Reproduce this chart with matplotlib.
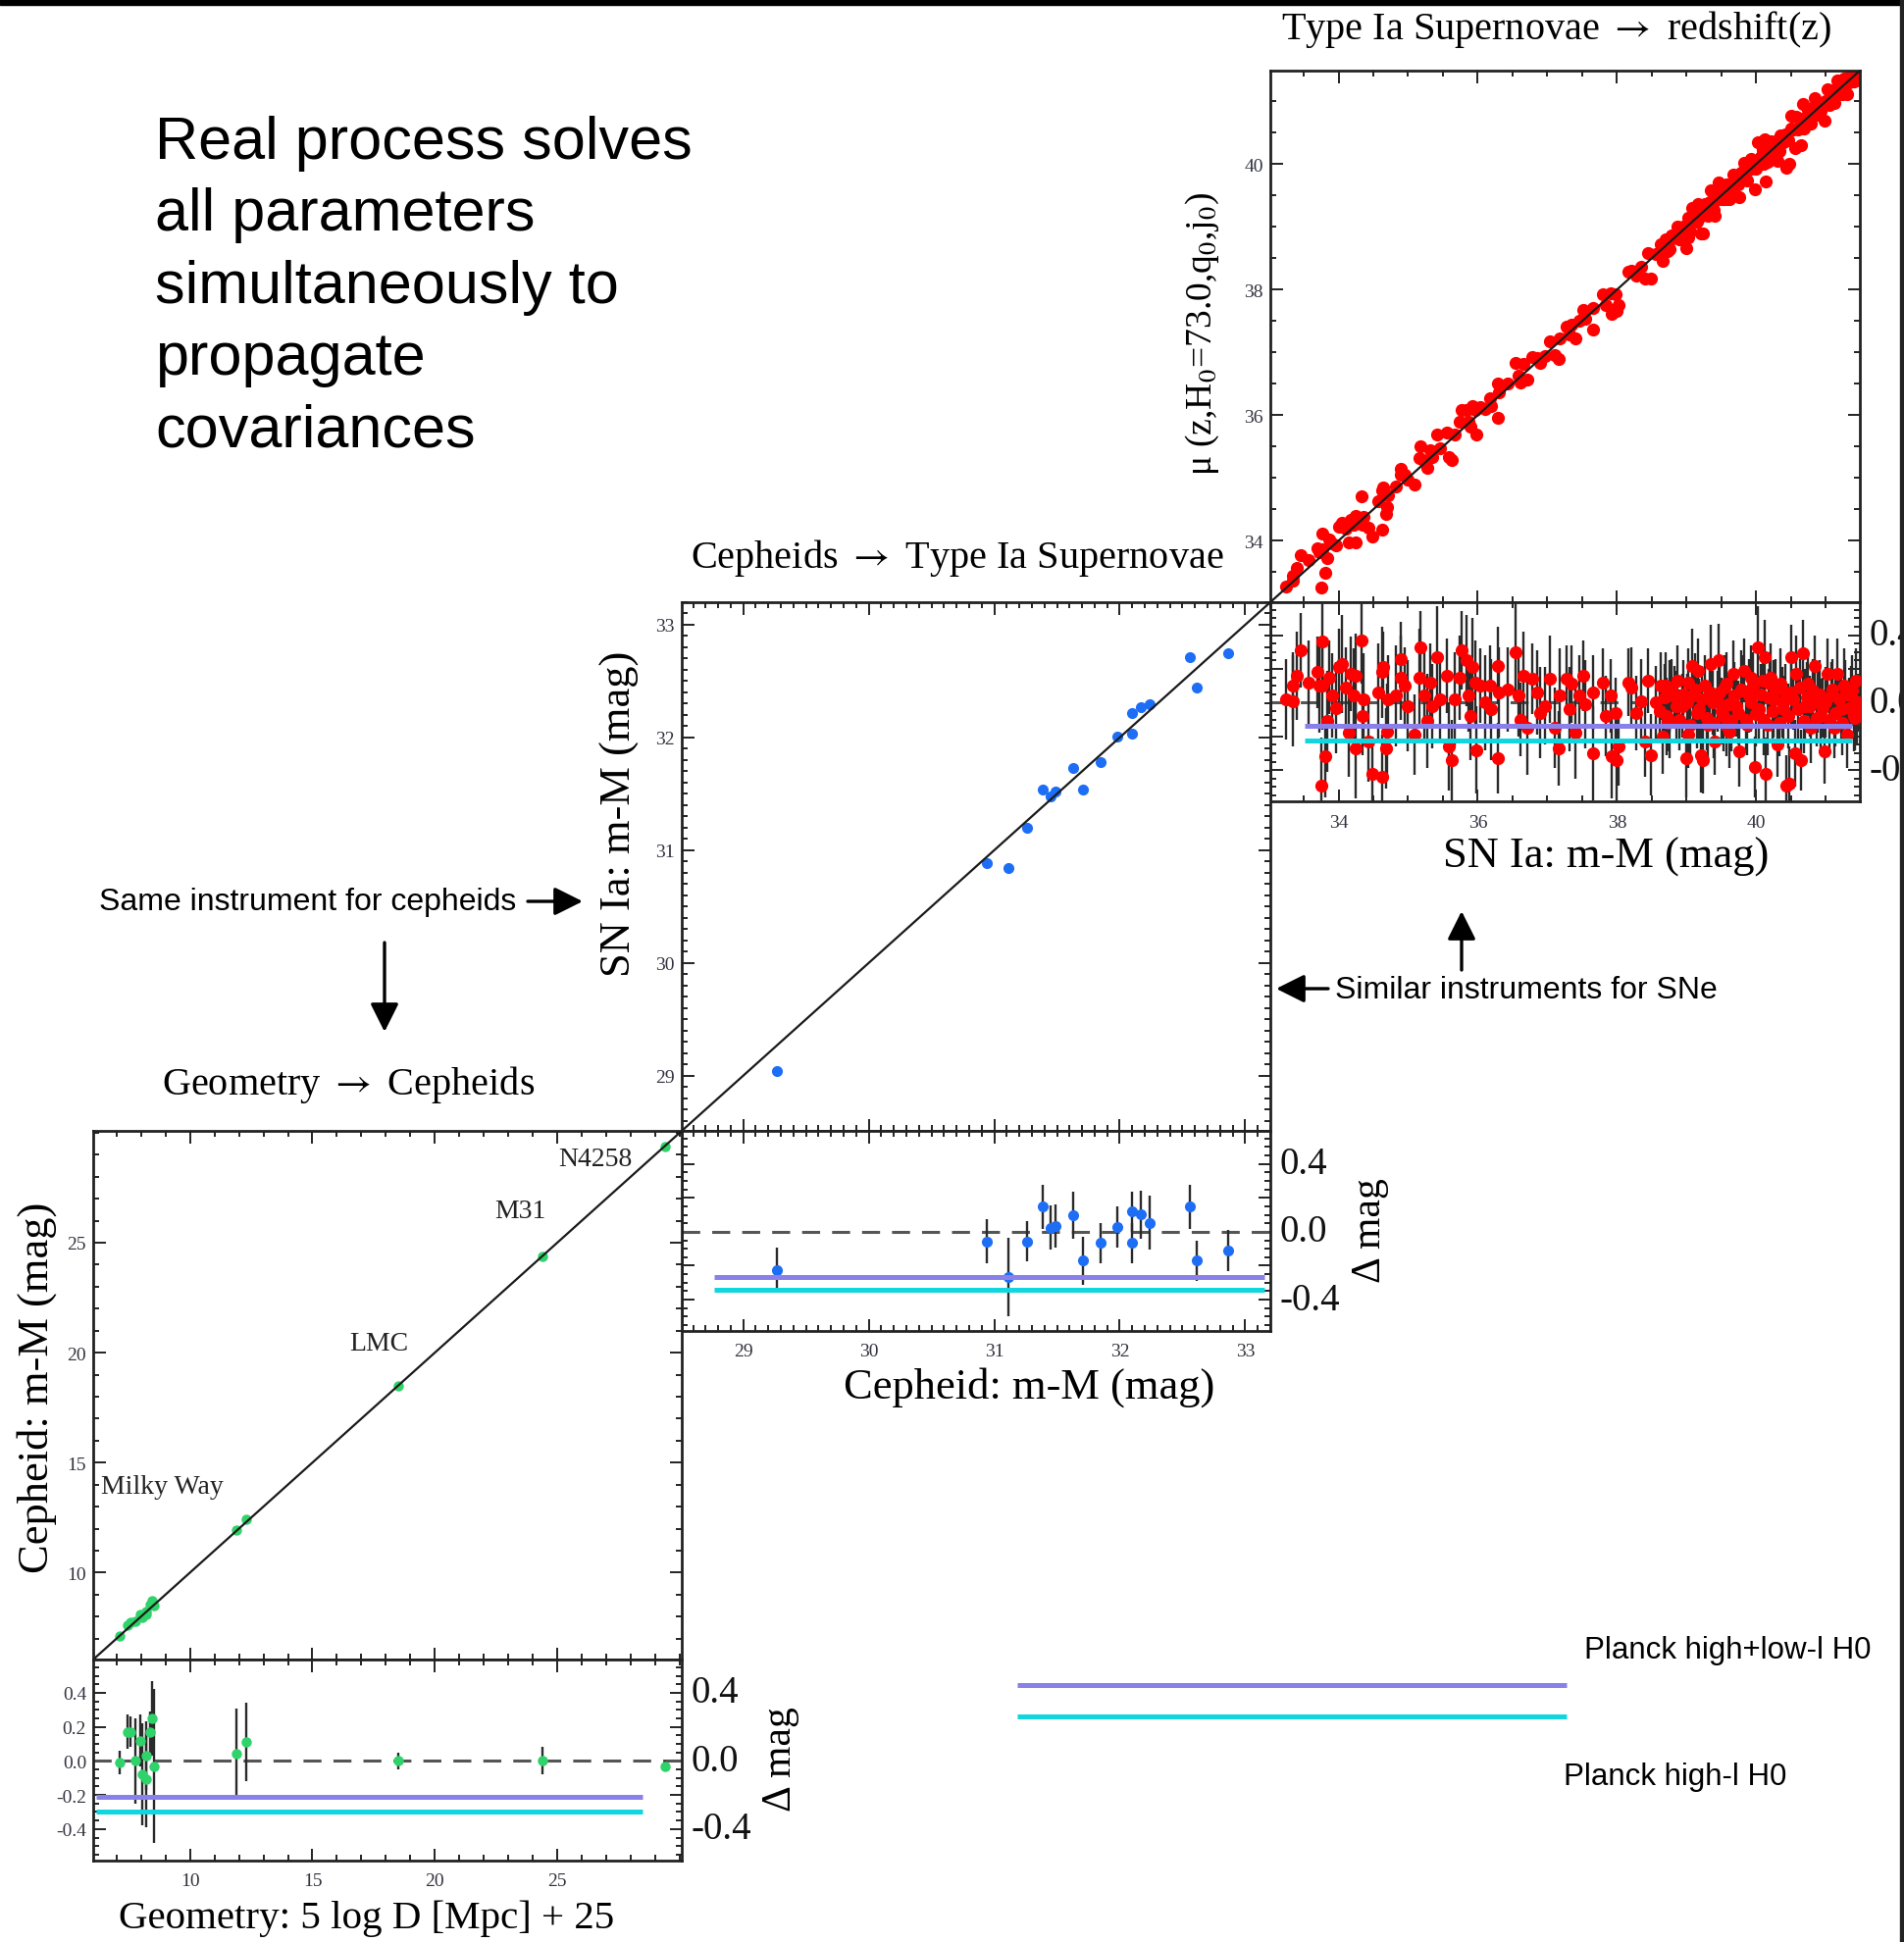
import numpy as np
import matplotlib.pyplot as plt
from matplotlib.ticker import MultipleLocator, FormatStrFormatter
from matplotlib.transforms import blended_transform_factory
from matplotlib.patches import Rectangle

W, H = 1941, 1981
DPI = 100

SERIF = ['Liberation Serif', 'DejaVu Serif']
SANS = ['Liberation Sans', 'DejaVu Sans']
plt.rcParams['font.family'] = SERIF
plt.rcParams['mathtext.fontset'] = 'stix'
plt.rcParams['axes.unicode_minus'] = False

RED = '#ff0000'
BLUE = '#1e6ef5'
GREEN = '#2fd36a'
PURPLE = '#8a80ea'
CYAN = '#12d6df'

# ---------------- data ----------------
# SN Ia: distance modulus and Hubble residual
sn_x = [33.25, 33.35, 33.34, 33.40, 33.46, 33.57, 33.72, 33.70, 33.76, 33.77,
        33.81, 33.75, 33.84, 33.87, 33.91, 33.96, 34.01, 34.05, 34.10, 34.15,
        34.17, 34.22, 34.24, 34.25, 34.33, 34.34, 34.36, 34.43, 34.48, 34.57,
        34.62, 34.64, 34.62, 34.69, 34.70, 34.71, 34.83, 34.89, 34.90, 34.95,
        35.00, 35.09, 35.16, 35.18, 35.23, 35.27, 35.32, 35.35, 35.42, 35.46,
        35.56, 35.59, 35.63, 35.67, 35.74, 35.77, 35.84, 35.86, 35.89, 35.93,
        35.98, 36.03, 36.10, 36.17, 36.19, 36.29, 36.29, 36.31, 36.43, 36.54,
        36.59, 36.62, 36.66, 36.71, 36.78, 36.85, 36.90, 36.97, 37.04, 37.11,
        37.16, 37.18, 37.27, 37.32, 37.34, 37.41, 37.46, 37.51, 37.55, 37.65,
        37.66, 37.80, 37.84, 37.91, 37.93, 37.98, 38.00, 38.02, 38.17, 38.21,
        38.28, 38.35, 38.40, 38.45, 38.49, 38.56, 38.63, 38.71, 38.75, 35.97,
        38.70, 38.75, 38.82, 38.87, 38.94, 38.99, 39.03, 39.08, 39.10, 39.15,
        39.17, 39.20, 39.24, 39.27, 39.31, 39.35, 39.38, 39.41, 39.46, 39.48,
        39.53, 39.57, 39.62, 39.67, 39.71, 39.76, 39.78, 39.83, 39.85, 39.90,
        39.98, 40.02, 40.04, 40.09, 40.12, 40.14, 40.16, 40.21, 40.25, 40.30,
        40.35, 40.39, 40.43, 40.48, 40.50, 40.51, 40.56, 40.58, 40.65, 40.67,
        40.70, 40.75, 40.79, 40.84, 40.89, 40.93, 40.98, 41.03, 41.08, 41.12,
        41.17, 41.22, 41.26, 41.31, 41.36, 41.40, 41.43, 41.45, 38.66, 39.93,
        38.62, 38.68, 38.73, 38.79, 38.85, 38.90, 38.96, 39.01, 39.05, 39.12,
        39.18, 39.22, 39.29, 39.33, 39.39, 39.44, 39.50, 39.55, 39.60, 39.65,
        39.69, 39.74, 39.80, 39.87, 39.93, 39.96, 40.00, 40.06, 40.11, 40.18,
        40.23, 40.28, 40.33, 40.37, 40.42, 40.46, 40.53, 40.60, 40.63, 40.68,
        40.73, 40.77, 40.82, 40.87, 40.91, 40.96, 41.00, 41.05, 41.10, 41.14,
        41.19, 41.24, 41.28, 41.33, 41.38, 41.42, 41.46, 39.02, 39.58, 40.20]
sn_res = [0.02, 0.01, 0.10, 0.16, 0.31, 0.12, 0.10, 0.18, 0.36, 0.10,
          -0.32, -0.49, -0.11, 0.15, 0.04, -0.03, 0.21, 0.23, 0.09, -0.18,
          0.17, 0.04, 0.16, -0.27, 0.37, -0.08, 0.02, -0.23, -0.42, 0.06,
          -0.44, 0.21, 0.18, -0.27, -0.17, 0.02, 0.04, 0.26, 0.15, 0.10,
          -0.02, -0.19, 0.15, 0.33, 0.04, -0.11, 0.12, -0.02, 0.27, 0.02,
          0.16, -0.26, -0.34, 0.02, 0.15, 0.31, 0.25, 0.04, -0.08, 0.21,
          -0.28, 0.10, 0.00, 0.10, -0.04, 0.22, -0.33, 0.06, 0.08, 0.30,
          0.04, -0.10, 0.16, -0.15, 0.14, 0.06, -0.06, -0.02, 0.14, -0.15,
          -0.27, 0.04, 0.14, -0.04, 0.11, -0.18, 0.04, 0.16, -0.01, 0.06,
          -0.30, 0.12, -0.08, 0.04, -0.32, -0.06, -0.34, -0.26, 0.12, 0.09,
          -0.06, 0.01, -0.23, 0.13, -0.31, 0.00, 0.10, -0.08, 0.04, 0.12,
          0.10, -0.11, 0.04, 0.13, -0.02, -0.33, -0.19, 0.22, 0.04, -0.06,
          0.19, -0.31, -0.34, 0.10, -0.13, 0.23, 0.00, -0.23, 0.25, 0.06,
          -0.08, 0.11, -0.17, 0.17, -0.02, -0.29, 0.08, 0.19, -0.10, 0.04,
          -0.38, 0.33, -0.04, 0.13, 0.27, -0.42, -0.13, 0.15, 0.02, -0.25,
          0.11, -0.04, -0.49, -0.48, 0.27, 0.06, -0.30, 0.17, -0.34, 0.29,
          -0.02, 0.11, -0.15, 0.22, 0.02, -0.08, -0.29, 0.17, 0.04, -0.15,
          0.17, -0.04, 0.10, -0.19, 0.04, -0.08, 0.13, -0.05, -0.20, 0.15,
          -0.05, 0.03, -0.12, 0.07, -0.02, -0.10, 0.05, 0.00, -0.13, 0.08,
          -0.04, 0.02, -0.09, 0.06, -0.12, 0.01, -0.05, 0.09, -0.01, -0.11,
          0.04, -0.06, 0.07, -0.13, 0.00, 0.10, -0.07, 0.05, -0.10, 0.03,
          -0.05, 0.08, -0.12, 0.00, 0.06, -0.08, 0.02, -0.04, 0.09, -0.11,
          0.03, -0.02, 0.07, -0.09, 0.05, -0.03, 0.00, -0.10, 0.08, -0.06,
          0.02, -0.12, 0.05, -0.03, 0.07, -0.09, 0.00, 0.12, -0.14, 0.11]
sn_err = [0.24, 0.27, 0.20, 0.26, 0.22, 0.25, 0.28, 0.21, 0.30, 0.26,
          0.24, 0.28, 0.30, 0.22, 0.25, 0.27, 0.23, 0.29, 0.24, 0.26,
          0.22, 0.28, 0.25, 0.30, 0.26, 0.23, 0.27, 0.24, 0.22, 0.29,
          0.25, 0.21, 0.27, 0.24, 0.28, 0.26, 0.30, 0.22, 0.25, 0.23,
          0.27, 0.24, 0.29, 0.21, 0.26, 0.28, 0.23, 0.25, 0.30, 0.24,
          0.22, 0.26, 0.24, 0.28, 0.25, 0.23, 0.27, 0.21, 0.26, 0.29,
          0.26, 0.22, 0.28, 0.24, 0.30, 0.23, 0.21, 0.27, 0.25, 0.29,
          0.24, 0.22, 0.26, 0.28, 0.21, 0.25, 0.27, 0.23, 0.26, 0.24,
          0.22, 0.28, 0.20, 0.25, 0.23, 0.27, 0.24, 0.21, 0.26, 0.22,
          0.28, 0.20, 0.24, 0.22, 0.25, 0.21, 0.26, 0.23, 0.20, 0.24,
          0.22, 0.25, 0.21, 0.19, 0.24, 0.22, 0.20, 0.23, 0.21, 0.25,
          0.20, 0.22, 0.18, 0.21, 0.19, 0.23, 0.20, 0.22, 0.18, 0.21,
          0.19, 0.22, 0.20, 0.18, 0.21, 0.23, 0.19, 0.20, 0.22, 0.18,
          0.21, 0.19, 0.22, 0.20, 0.18, 0.21, 0.23, 0.19, 0.20, 0.22,
          0.18, 0.24, 0.20, 0.19, 0.22, 0.21, 0.18, 0.20, 0.23, 0.19,
          0.21, 0.20, 0.18, 0.22, 0.19, 0.21, 0.20, 0.23, 0.18, 0.20,
          0.22, 0.19, 0.21, 0.18, 0.20, 0.22, 0.19, 0.21, 0.20, 0.18,
          0.21, 0.19, 0.22, 0.20, 0.18, 0.21, 0.19, 0.20, 0.22, 0.19,
          0.18, 0.20, 0.17, 0.19, 0.21, 0.18, 0.20, 0.17, 0.19, 0.21,
          0.18, 0.20, 0.19, 0.17, 0.21, 0.18, 0.20, 0.19, 0.17, 0.18,
          0.20, 0.19, 0.21, 0.18, 0.17, 0.20, 0.19, 0.18, 0.21, 0.17,
          0.19, 0.18, 0.20, 0.21, 0.17, 0.19, 0.18, 0.20, 0.17, 0.19,
          0.21, 0.18, 0.19, 0.17, 0.20, 0.18, 0.21, 0.19, 0.18, 0.20,
          0.17, 0.19, 0.20, 0.18, 0.21, 0.19, 0.17, 0.20, 0.18, 0.19]

# Cepheid hosts: Cepheid distance modulus and SN residual
ceph_x = [29.27, 30.94, 31.11, 31.26, 31.39, 31.45, 31.49, 31.63, 31.71,
          31.85, 31.98, 32.10, 32.10, 32.17, 32.24, 32.56, 32.61, 32.86]
ceph_res = [-0.225, -0.057, -0.267, -0.057, 0.149, 0.023, 0.034, 0.099, -0.171,
            -0.067, 0.029, -0.067, 0.118, 0.101, 0.053, 0.149, -0.171, -0.110]
ceph_err = [0.13, 0.13, 0.23, 0.12, 0.13, 0.13, 0.13, 0.14, 0.14,
            0.12, 0.12, 0.12, 0.12, 0.14, 0.16, 0.13, 0.12, 0.12]

# Geometric anchors: geometric distance modulus and Cepheid residual
geo_x = [7.14, 7.45, 7.59, 7.78, 7.96, 8.06, 8.22, 8.22,
         8.37, 8.47, 8.53, 11.88, 12.31, 18.51, 24.39, 29.39]
geo_res = [-0.01, 0.17, 0.17, 0.00, 0.12, -0.08, -0.11, 0.03,
           0.17, 0.25, -0.03, 0.04, 0.11, 0.00, 0.00, -0.03]
geo_err = [0.07, 0.10, 0.09, 0.25, 0.15, 0.30, 0.28, 0.20,
           0.12, 0.22, 0.45, 0.27, 0.23, 0.05, 0.08, 0.03]
geo_names = ['Milky Way', 'LMC', 'M31', 'N4258']
geo_name_pos = [(6.38, 13.9), (17.7, 20.45), (23.5, 26.45), (26.55, 28.8)]

# Planck offsets drawn in each residual panel (mag) and their x extent
planck_lo_l = {'sn': -0.137, 'ceph': -0.265, 'geo': -0.21}
planck_hi_l = {'sn': -0.225, 'ceph': -0.34, 'geo': -0.30}
planck_span = {'sn': (33.52, 41.38), 'ceph': (28.77, 33.15), 'geo': (6.16, 28.47)}

SN_LIM = (33.02, 41.49)
CE_LIM = (28.51, 33.20)
GE_LIM = (6.05, 30.08)
RES_LIM = (-0.585, 0.595)


def box(x0, y0, x1, y1):
    return [x0 / W, 1 - y1 / H, (x1 - x0) / W, (y1 - y0) / H]


def style(ax, xmaj, xmin, ymaj, ymin):
    ax.xaxis.set_major_locator(MultipleLocator(xmaj))
    ax.xaxis.set_minor_locator(MultipleLocator(xmin))
    ax.yaxis.set_major_locator(MultipleLocator(ymaj))
    ax.yaxis.set_minor_locator(MultipleLocator(ymin))
    ax.tick_params(which='both', direction='in', top=True, right=True,
                   color='#222222', width=1.4, labelsize=14,
                   labelcolor='#333340', pad=5)
    ax.tick_params(which='major', length=9)
    ax.tick_params(which='minor', length=4.5)
    for s in ax.spines.values():
        s.set_linewidth(2.0)
        s.set_color('#222222')


fig = plt.figure(figsize=(W / DPI, H / DPI), dpi=DPI)

ax_sn = fig.add_axes(box(1295, 73, 1896, 615))
ax_snr = fig.add_axes(box(1295, 615, 1896, 818))
ax_ce = fig.add_axes(box(695, 615, 1295, 1154))
ax_cer = fig.add_axes(box(695, 1154, 1295, 1358))
ax_ge = fig.add_axes(box(95, 1154, 695, 1693))
ax_ger = fig.add_axes(box(95, 1693, 695, 1898))

sets = [
    (ax_sn, ax_snr, 'sn', sn_x, sn_res, sn_err, SN_LIM, RED, 2, 0.5, 8.5),
    (ax_ce, ax_cer, 'ceph', ceph_x, ceph_res, ceph_err, CE_LIM, BLUE, 1, 0.1, 7),
    (ax_ge, ax_ger, 'geo', geo_x, geo_res, geo_err, GE_LIM, GREEN, 5, 1, 6.5),
]

for ax, axr, key, x, r, e, lim, col, maj, mnr, ms in sets:
    x = np.array(x)
    r = np.array(r)
    y = x + r
    # main panel
    ax.plot(x, y, 'o', ms=ms, color=col, mec=col, zorder=2)
    ax.plot(lim, lim, color='#1a1a1a', lw=1.6, zorder=3)
    ax.set_xlim(lim)
    ax.set_ylim(lim)
    style(ax, maj, mnr, maj, mnr)
    ax.tick_params(labelbottom=False)

    # residual panel
    axr.errorbar(x, r, yerr=e, fmt='o', ms=ms, color=col, mec=col,
                 ecolor='#2a2a2a', elinewidth=1.7, capsize=0, zorder=3)
    axr.axhline(0, color='#555555', lw=2.2, dashes=(6, 4), zorder=2)
    x0, x1 = planck_span[key]
    axr.plot([x0, x1], [planck_lo_l[key]] * 2, color=PURPLE, lw=3.6,
             solid_capstyle='butt', zorder=5)
    axr.plot([x0, x1], [planck_hi_l[key]] * 2, color=CYAN, lw=3.6,
             solid_capstyle='butt', zorder=5)
    axr.set_xlim(lim)
    axr.set_ylim(RES_LIM)
    style(axr, maj, mnr, 0.2, 0.05)
    axr.tick_params(axis='x', pad=9)
    axr.yaxis.set_major_formatter(FormatStrFormatter('%.1f'))
    if key != 'geo':
        axr.tick_params(labelleft=False)
    tr = blended_transform_factory(axr.transAxes, axr.transData)
    for v in [0.4, 0.0, -0.4]:
        axr.text(1.016, v, f'{v:.1f}', transform=tr, fontsize=28,
                 ha='left', va='center', color='#111111', clip_on=False)

# tick choices for the geometry panel (30 is the corner, unlabeled)
ge_ticks = [10, 15, 20, 25]
ax_ge.set_xticks(ge_ticks)
ax_ge.set_yticks(ge_ticks)
ax_ger.set_xticks(ge_ticks)

for name, (px, py) in zip(geo_names, geo_name_pos):
    ax_ge.text(px, py, name, fontsize=20, ha='left' if name == 'Milky Way' else 'center',
               va='center', color='#222222')

# ---------------- overlay: titles, labels, arrows ----------------
ov = fig.add_axes([0, 0, 1, 1])
ov.set_xlim(0, W)
ov.set_ylim(H, 0)
ov.axis('off')

ov.add_patch(Rectangle((0, 0), W, 6, color='black'))
ov.add_patch(Rectangle((1937, 0), 4, H, color='#222222'))

ov.text(158, 118, 'Real process solves\nall parameters\nsimultaneously to\npropagate\ncovariances',
        fontsize=44, family=SANS, ha='left', va='top', linespacing=1.37)

ARR = r'$\rightarrow$'
ov.text(1586, 30, f'Type Ia Supernovae {ARR} redshift(z)', fontsize=29, ha='center', va='center')
ov.text(976, 569, f'Cepheids {ARR} Type Ia Supernovae', fontsize=29, ha='center', va='center')
ov.text(355, 1106, f'Geometry {ARR} Cepheids', fontsize=29, ha='center', va='center')

ov.text(1226, 341, '\u03bc (z,H$_0$=73.0,q$_0$,j$_0$)', fontsize=27, rotation=90,
        ha='center', va='center')
ov.text(1637, 874, 'SN Ia: m-M (mag)', fontsize=32, ha='center', va='center')
ov.text(632, 830, 'SN Ia: m-M (mag)', fontsize=32, rotation=90, ha='center', va='center')
ov.text(1049, 1415, 'Cepheid: m-M (mag)', fontsize=32, ha='center', va='center')
ov.text(38, 1415, 'Cepheid: m-M (mag)', fontsize=32, rotation=90, ha='center', va='center')
ov.text(374, 1956, 'Geometry: 5 log D [Mpc] + 25', fontsize=29.5, ha='center', va='center')
ov.text(1397, 1255, '\u0394 mag', fontsize=30, rotation=90, ha='center', va='center')
ov.text(796, 1794, '\u0394 mag', fontsize=30, rotation=90, ha='center', va='center')

arrow = dict(arrowstyle='-|>,head_length=1.1,head_width=0.55', lw=2.4,
             color='black', mutation_scale=16, shrinkA=0, shrinkB=0)
ov.text(101, 920, 'Same instrument for cepheids', fontsize=23, family=SANS,
        ha='left', va='center')
ov.annotate('', xy=(594, 920), xytext=(538, 920), arrowprops=arrow)
ov.annotate('', xy=(392, 1053), xytext=(392, 962), arrowprops=arrow)
ov.text(1361, 1010, 'Similar instruments for SNe', fontsize=23, family=SANS,
        ha='left', va='center')
ov.annotate('', xy=(1301, 1009), xytext=(1354, 1009), arrowprops=arrow)
ov.annotate('', xy=(1490, 930), xytext=(1490, 990), arrowprops=arrow)

# Planck key
ov.plot([1037, 1597], [1719, 1719], color=PURPLE, lw=3.6, solid_capstyle='butt')
ov.plot([1037, 1597], [1751, 1751], color=CYAN, lw=3.6, solid_capstyle='butt')
ov.text(1615, 1683, 'Planck high+low-l H0', fontsize=22.5, family=SANS, ha='left', va='center')
ov.text(1594, 1812, 'Planck high-l H0', fontsize=22.5, family=SANS, ha='left', va='center')

fig.savefig('out.png', dpi=DPI)
